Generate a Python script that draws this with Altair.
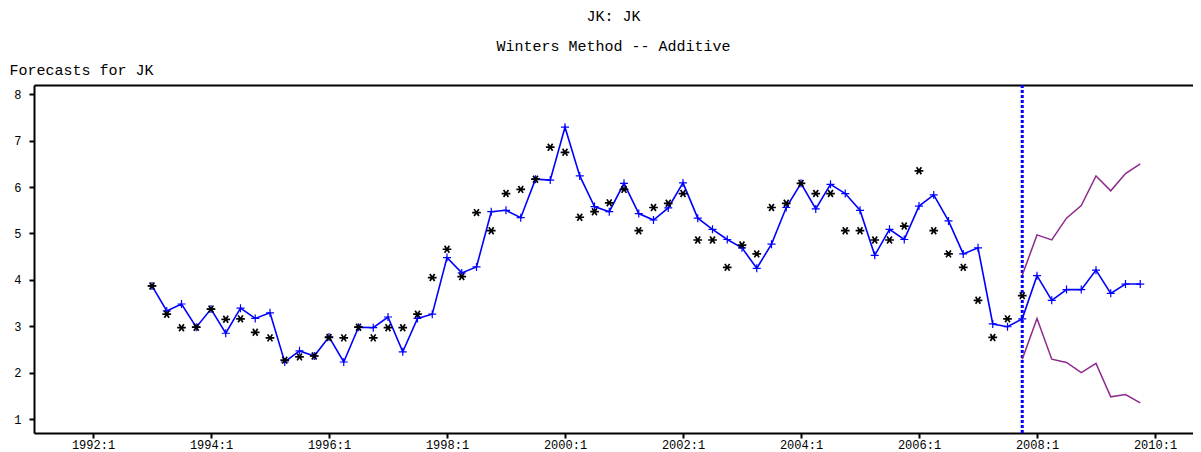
import altair as alt
import pandas as pd

# ---- data (quarterly, 1993:1 .. 2007:4) ----
start_year = 1993
fitted = [3.87, 3.33, 3.48, 2.98, 3.37, 2.85, 3.39, 3.17, 3.29, 2.23,
          2.47, 2.36, 2.77, 2.23, 2.98, 2.97, 3.20, 2.45, 3.17, 3.26,
          4.48, 4.15, 4.28, 5.47, 5.50, 5.34, 6.17, 6.15, 7.29, 6.24,
          5.58, 5.47, 6.08, 5.43, 5.29, 5.55, 6.09, 5.33, 5.09, 4.87,
          4.69, 4.25, 4.77, 5.56, 6.08, 5.53, 6.06, 5.86, 5.50, 4.53,
          5.09, 4.87, 5.59, 5.83, 5.27, 4.56, 4.69, 3.05, 2.99, 3.16]
actual = [3.87, 3.26, 2.97, 2.98, 3.37, 3.15, 3.16, 2.87, 2.75, 2.27,
          2.34, 2.36, 2.76, 2.75, 2.98, 2.75, 2.97, 2.97, 3.26, 4.05,
          4.66, 4.07, 5.45, 5.06, 5.86, 5.95, 6.17, 6.86, 6.75, 5.35,
          5.47, 5.66, 5.95, 5.06, 5.56, 5.65, 5.86, 4.86, 4.86, 4.27,
          4.75, 4.56, 5.56, 5.65, 6.08, 5.86, 5.86, 5.06, 5.06, 4.86,
          4.86, 5.16, 6.35, 5.06, 4.56, 4.27, 3.56, 2.76, 3.16, 3.66]
# forecasts, 2007:4 .. 2009:4
forecast_start = 2007.75
forecast = [3.17, 4.09, 3.56, 3.79, 3.79, 4.21, 3.71, 3.91, 3.91]
upper = [4.10, 4.97, 4.86, 5.33, 5.60, 6.24, 5.92, 6.29, 6.50]
lower = [2.29, 3.17, 2.29, 2.22, 2.00, 2.20, 1.48, 1.53, 1.35]
x_ticks = [1992, 1994, 1996, 1998, 2000, 2002, 2004, 2006, 2008, 2010]
y_ticks = [1, 2, 3, 4, 5, 6, 7, 8]

t_hist = [start_year + i / 4 for i in range(len(fitted))]
t_fc = [forecast_start + i / 4 for i in range(len(forecast))]

blue_df = pd.DataFrame({"t": t_hist + t_fc[1:], "v": fitted + forecast[1:]})
act_df = pd.DataFrame({"t": t_hist, "v": actual})
band_df = pd.DataFrame({
    "t": t_fc + t_fc,
    "v": upper + lower,
    "s": ["upper"] * len(upper) + ["lower"] * len(lower),
})
vline_df = pd.DataFrame({"t": [forecast_start]})

FONT = "Liberation Mono"
FS = 15
LFS = 12
BLUE = "#0000ff"
PURPLE = "#8e2a8e"
PLUS = "M-1,0L1,0M0,-1L0,1"
STAR = "M-1,0L1,0M-0.55,-0.8L0.55,0.8M-0.55,0.8L0.55,-0.8"

W = 1159
xscale = alt.Scale(domain=[1991.0, 1991.0 + W / 59.0], nice=False, zero=False)
yscale = alt.Scale(domain=[0.7, 8.2], nice=False, zero=False)

xaxis = alt.Axis(values=x_ticks, labelExpr="floor(datum.value) + ':1'", grid=False,
                 tickSize=5, tickWidth=2, tickColor="black", domainWidth=2,
                 domainColor="black", labelFont=FONT, labelFontSize=LFS,
                 labelColor="black", labelPadding=1, title=None)
top_axis = alt.Axis(orient="top", labels=False, ticks=False, grid=False,
                    domainWidth=2, domainColor="black", title=None)
yaxis = alt.Axis(values=y_ticks, format="d", grid=False, tickSize=5, tickWidth=2,
                 tickColor="black", domainWidth=2, domainColor="black",
                 labelFont=FONT, labelFontSize=LFS, labelColor="black", labelPadding=8,
                 title="Forecasts for JK", titleAngle=0, titleAlign="left",
                 titleBaseline="bottom", titleX=-25, titleY=-8, titleFont=FONT,
                 titleFontSize=FS, titleFontWeight="normal", titleColor="black")

Xn = alt.X("t:Q", scale=xscale, axis=None)
Y = alt.Y("v:Q", scale=yscale, axis=yaxis)

top = alt.Chart(vline_df).mark_rule(opacity=0).encode(
    x=alt.X("t:Q", scale=xscale, axis=top_axis))
vline = alt.Chart(vline_df).mark_rule(color=BLUE, strokeWidth=3, strokeDash=[3, 2]).encode(
    x=alt.X("t:Q", scale=xscale, axis=xaxis))
band = alt.Chart(band_df).mark_line(color=PURPLE, strokeWidth=1.5).encode(
    x=Xn, y=Y, detail="s:N")
blue_line = alt.Chart(blue_df).mark_line(color=BLUE, strokeWidth=1.6).encode(x=Xn, y=Y)
blue_pts = alt.Chart(blue_df).mark_point(shape=PLUS, filled=False, color=BLUE,
                                         strokeWidth=1.2, size=64, opacity=1).encode(x=Xn, y=Y)
stars = alt.Chart(act_df).mark_point(shape=STAR, filled=False, color="black",
                                     strokeWidth=1.7, size=76, opacity=1).encode(x=Xn, y=Y)

chart = alt.layer(top, vline, band, blue_line, blue_pts, stars).resolve_axis(
    x="independent"
).properties(
    width=W,
    height=348,
    autosize=alt.AutoSizeParams(type="none"),
    padding={"left": 26, "top": 77, "right": 0, "bottom": 18},
    title=alt.TitleParams(text="JK: JK", subtitle="Winters Method -- Additive",
                          anchor="middle", frame="group", font=FONT, fontSize=FS,
                          fontWeight="normal", color="black", subtitleFont=FONT,
                          subtitleFontSize=FS, subtitleColor="black",
                          subtitlePadding=15, offset=8),
).configure_view(stroke=None)

chart.save("out.html", embed_options={"renderer": "svg", "actions": False})
